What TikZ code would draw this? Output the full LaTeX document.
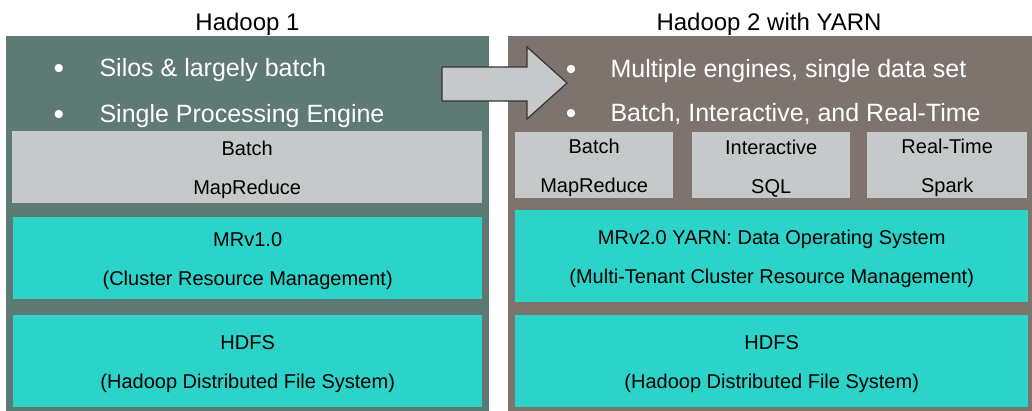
\documentclass[tikz,border=0pt]{standalone}
\usepackage{fontspec}
\setmainfont{Liberation Sans}
\definecolor{panelL}{HTML}{5F7975}
\definecolor{panelR}{HTML}{7F736E}
\definecolor{boxgray}{HTML}{C6C9CA}
\definecolor{boxteal}{HTML}{2BD3C9}
\definecolor{arrowedge}{HTML}{333333}
\begin{document}
\begin{tikzpicture}[x=1pt,y=-1pt,
  panel/.style={draw=none, inner sep=0pt, anchor=north west},
  layer/.style={draw=none, inner sep=0pt, anchor=north west},
  ltext/.style={align=center, inner sep=0pt, yshift=-3pt,
     font=\fontsize{20}{39}\selectfont, text=black},
  graylayer/.style={layer, fill=boxgray},
  teallayer/.style={layer, fill=boxteal},
  title/.style={anchor=base, font=\fontsize{24}{28}\selectfont, text=black},
  bullettext/.style={anchor=base west, font=\fontsize{25}{30}\selectfont, text=white},
  bulletdot/.style={anchor=base, font=\fontsize{30}{32}\selectfont, text=white}]
\useasboundingbox (0,0) rectangle (1032,411);
\fill[white] (0,0) rectangle (1032,411);

% panels
\node[panel, fill=panelL, minimum width=483pt, minimum height=375pt] (pL) at (6,36) {};
\node[panel, fill=panelR, minimum width=524pt, minimum height=375pt] (pR) at (508,36) {};

% titles
\node[title] (tL) at (247.5,31) {Hadoop 1};
\node[title] (tR) at (769,31) {Hadoop 2 with YARN};

% left layers
\node[graylayer, minimum width=470pt, minimum height=72pt,
  label={[ltext]center:{Batch\\MapReduce}}] (lBatch) at (12,131) {};
\node[teallayer, minimum width=469pt, minimum height=82pt,
  label={[ltext]center:{MRv1.0\\(Cluster Resource Management)}}] (lMR) at (13,217) {};
\node[teallayer, minimum width=469pt, minimum height=92pt,
  label={[ltext]center:{HDFS\\(Hadoop Distributed File System)}}] (lHDFS) at (13,315) {};

% right layers
\node[graylayer, minimum width=158pt, minimum height=66pt,
  label={[ltext]center:{Batch\\MapReduce}}] (rBatch) at (515,132) {};
\node[graylayer, minimum width=158pt, minimum height=66pt,
  label={[ltext]center:{Interactive\\SQL}}] (rInt) at (692,132) {};
\node[graylayer, minimum width=160pt, minimum height=66pt,
  label={[ltext]center:{Real-Time\\Spark}}] (rRT) at (867,132) {};
\node[teallayer, minimum width=513pt, minimum height=92pt,
  label={[ltext]center:{MRv2.0 YARN: Data Operating System\\(Multi-Tenant Cluster Resource Management)}}] (rYARN) at (515,210) {};
\node[teallayer, minimum width=513pt, minimum height=92pt,
  label={[ltext]center:{HDFS\\(Hadoop Distributed File System)}}] (rHDFS) at (515,315) {};

% block arrow
\draw[fill=boxgray, draw=arrowedge, line width=1.2pt, line join=miter]
  (442,67) -- (527,67) -- (527,47) -- (567,83) -- (527,119) -- (527,101) -- (442,101) -- cycle;

% left bullets
\node[bulletdot] (bL1d) at (59,79) {•};
\node[bullettext] (bL1) at (96,77) {Silos \& largely batch};
\node[bulletdot] (bL2d) at (59,125) {•};
\node[bullettext] (bL2) at (96,123) {Single Processing Engine};

% right bullets
\node[bulletdot] (bR1d) at (571,80) {•};
\node[bullettext] (bR1) at (607,78) {Multiple engines, single data set};
\node[bulletdot] (bR2d) at (571,124) {•};
\node[bullettext] (bR2) at (607,122) {Batch, Interactive, and Real-Time};
\end{tikzpicture}
\end{document}
